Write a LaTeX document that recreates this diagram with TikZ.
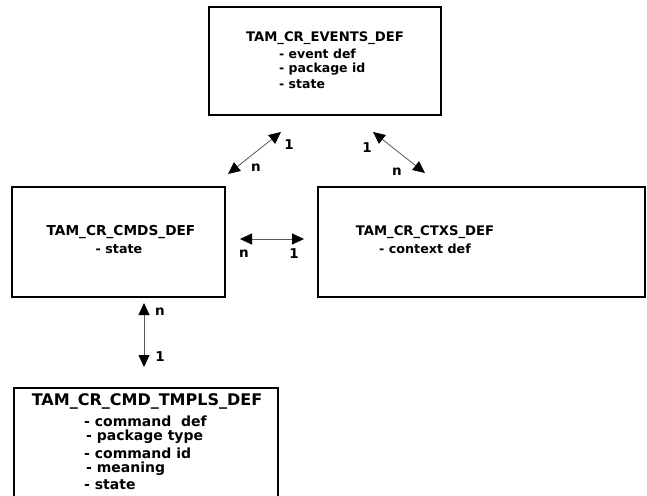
\documentclass[tikz,border=0pt]{standalone}
\usepackage{fontspec}
\setmainfont{DejaVu Sans}
\usetikzlibrary{arrows.meta}
\begin{document}
\begin{tikzpicture}[x=1pt,y=-1pt,
  box/.style={draw=black,line width=1.8pt},
  ttl/.style={font=\fontsize{13.2}{15}\selectfont\bfseries,inner sep=0pt},
  items/.style={font=\fontsize{11.8}{15.3}\selectfont\bfseries,inner sep=0pt,align=left,anchor=north west},
  lab/.style={font=\fontsize{13.5}{15}\selectfont\bfseries,inner sep=0pt},
  tip/.style={Triangle[length=12pt,width=11pt,color=black]},
  rel/.style={draw=black!65,line width=0.8pt,{Triangle[length=12pt,width=11pt,color=black]}-{Triangle[length=12pt,width=11pt,color=black]}}]
\useasboundingbox (0,0) rectangle (647,495);
\fill[white] (0,0) rectangle (647,495);
% boxes
\draw[box] (209,7) rectangle (441,115);
\draw[box] (12,187) rectangle (225,297);
\draw[box] (318,187) rectangle (645,297);
\draw[box] (14,388) rectangle (278,499);
% texts
\node[ttl] (evt) at (325,38) {TAM\_CR\_EVENTS\_DEF};
\node[ttl,font=\fontsize{12.5}{15}\selectfont\bfseries,anchor=west] (evti1) at (279,54) {- event def};
\node[ttl,font=\fontsize{12.5}{15}\selectfont\bfseries,anchor=west] (evti2) at (279,69) {- package id};
\node[ttl,font=\fontsize{12.5}{15}\selectfont\bfseries,anchor=west] (evti3) at (279,84) {- state};
\node[ttl,font=\fontsize{13.7}{15}\selectfont\bfseries] (cmds) at (121,232) {TAM\_CR\_CMDS\_DEF};
\node[ttl,font=\fontsize{12.7}{15}\selectfont\bfseries] (cmdsi) at (119,249) {- state};
\node[ttl] (ctxs) at (425,232) {TAM\_CR\_CTXS\_DEF};
\node[ttl,font=\fontsize{12.7}{15}\selectfont\bfseries] (ctxsi) at (425,249) {- context def};
\node[ttl,font=\fontsize{16}{18}\selectfont\bfseries] (tmp) at (147,401) {TAM\_CR\_CMD\_TMPLS\_DEF};
\begin{scope}[every node/.style={font=\fontsize{14}{16}\selectfont\bfseries,inner sep=0pt,anchor=west}]
\node (tmp1) at (84,421) {- command\ \ def};
\node (tmp2) at (86,437) {- package type};
\node (tmp3) at (84,453) {- command id};
\node (tmp4) at (86,469) {- meaning};
\node (tmp5) at (84,485) {- state};
\end{scope}
% connector ends
\coordinate (a1) at (228,174); \coordinate (a2) at (281,132);
\coordinate (b1) at (373,132); \coordinate (b2) at (425,173);
\coordinate (c1) at (240,239); \coordinate (c2) at (304,239);
\coordinate (d1) at (144,303); \coordinate (d2) at (144,367);
\draw[rel] (a1) -- (a2);
\draw[rel] (b1) -- (b2);
\draw[rel] (c1) -- (c2);
\draw[rel] (d1) -- (d2);
% labels
\node[lab] (la1) at (289,145) {1};
\node[lab] (la2) at (256,168) {n};
\node[lab] (lb1) at (367,148) {1};
\node[lab] (lb2) at (397,172) {n};
\node[lab] (lc1) at (244,254) {n};
\node[lab] (lc2) at (294,254) {1};
\node[lab] (ld1) at (160,312) {n};
\node[lab] (ld2) at (160,357) {1};
\end{tikzpicture}
\end{document}
